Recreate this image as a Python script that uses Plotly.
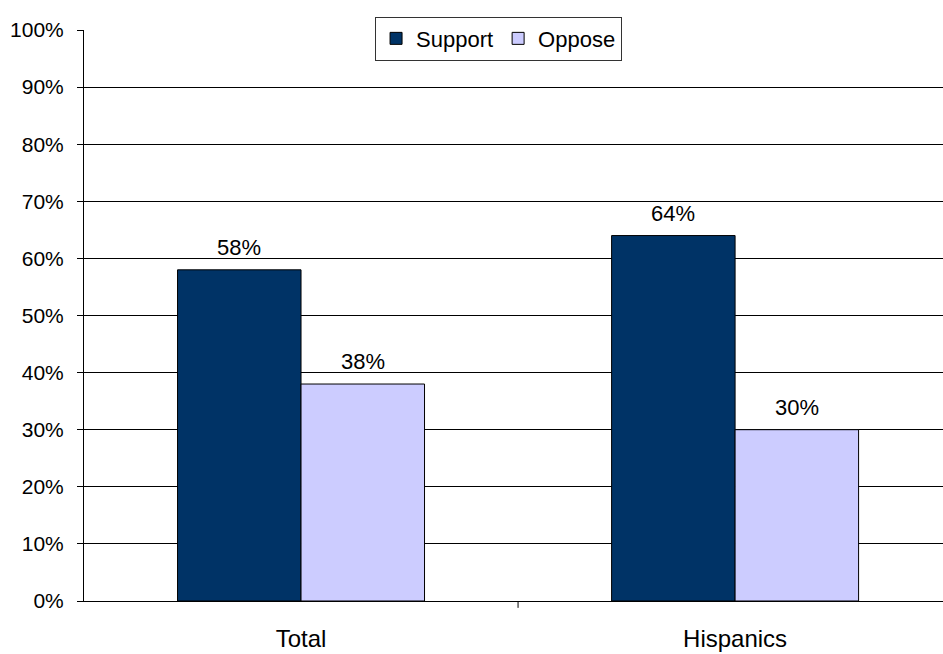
import plotly.graph_objects as go

categories = ["Total", "Hispanics"]
support = [58, 64]
oppose = [38, 30]
y_ticks = [0, 10, 20, 30, 40, 50, 60, 70, 80, 90, 100]

x_pos = list(range(len(categories)))
font_family = "Liberation Sans, Arial, sans-serif"
series = [("Support", support, "#003366", -0.1423), ("Oppose", oppose, "#CCCCFF", 0.1423)]

fig = go.Figure()
for name, values, color, offset in series:
    fig.add_trace(go.Bar(
        name=name, x=x_pos, y=values,
        marker=dict(color=color, line=dict(color="#000000", width=1)),
        hovertemplate="%{y}%<extra>" + name + "</extra>",
    ))
    # value labels above each bar, positioned at the bar's own value
    for xi, v in zip(x_pos, values):
        fig.add_annotation(
            x=xi + offset, y=v, xref="x", yref="y",
            text=f"{v}%", showarrow=False, yanchor="bottom", yshift=8,
            font=dict(size=22, color="#000000", family=font_family),
        )

# category divider tick below the x axis
fig.add_shape(type="line", xref="x", yref="paper", x0=0.5, x1=0.5, y0=0, y1=-0.012,
              line=dict(color="#000000", width=1))

fig.update_layout(
    width=943, height=654,
    margin=dict(l=84, r=0, t=30, b=53),
    paper_bgcolor="white", plot_bgcolor="white",
    barmode="group", bargap=0.431, bargroupgap=0,
    font=dict(family=font_family, size=22, color="#000000"),
    showlegend=True,
    legend=dict(
        orientation="h", x=0.4826, xanchor="center", y=0.985, yanchor="middle",
        bgcolor="white", bordercolor="#333333", borderwidth=1,
        font=dict(size=22, family=font_family), itemwidth=30,
        traceorder="normal",
    ),
    xaxis=dict(
        range=[-0.5, 1.479], tickvals=x_pos, ticktext=categories,
        showgrid=False, zeroline=False, ticks="",
        showline=True, linecolor="#000000", linewidth=1,
        tickfont=dict(size=24), ticklabelstandoff=16, fixedrange=True,
    ),
    yaxis=dict(
        range=[0, 100], tickvals=y_ticks, ticktext=[f"{v}%" for v in y_ticks],
        showgrid=True, gridcolor="#000000", gridwidth=1,
        zeroline=False, showline=True, linecolor="#000000", linewidth=1,
        ticks="outside", ticklen=6, tickcolor="#000000",
        tickfont=dict(size=21), ticklabelstandoff=9,
    ),
)

fig.write_html("out.html")
